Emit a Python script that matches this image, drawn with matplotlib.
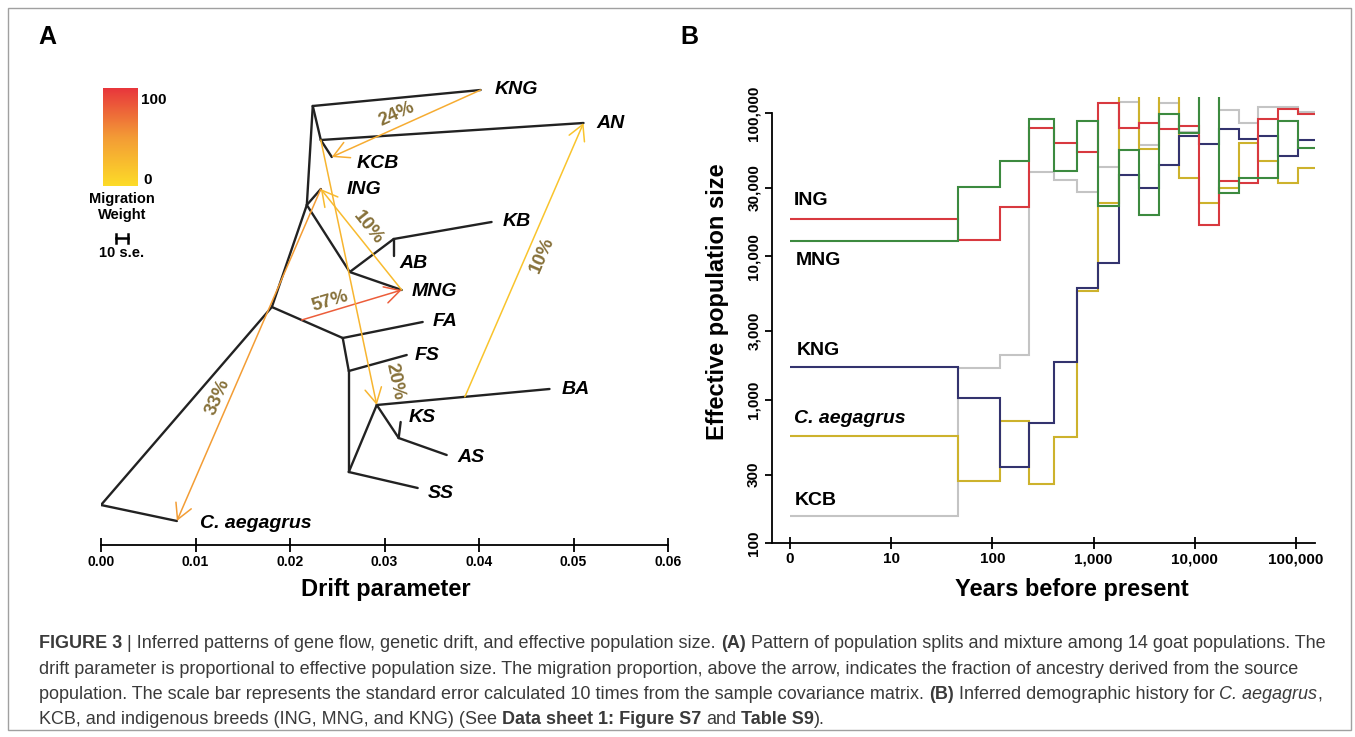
import numpy as np
import matplotlib
matplotlib.use('Agg')
import matplotlib.pyplot as plt
from matplotlib.colors import LinearSegmentedColormap
from matplotlib.patches import Rectangle
from matplotlib.ticker import NullLocator

plt.rcParams['font.family'] = ['Liberation Sans', 'DejaVu Sans']

W, H = 1355, 737

# ---------------- panel A: treemix tree ----------------
# node -> drift parameter, vertical layout row (top = small)
node_names = ['root', 'N1', 'N2', 'N3', 'N4', 'N5', 'N6', 'N7', 'N8', 'N9', 'N10', 'N11',
              'C. aegagrus', 'KNG', 'AN', 'KCB', 'ING', 'KB', 'AB', 'MNG',
              'FA', 'FS', 'BA', 'KS', 'AS', 'SS']
node_drift = [0.0, 0.01808, 0.02178, 0.02241, 0.02326, 0.02632, 0.03097, 0.02558,
              0.02622, 0.02622, 0.02918, 0.03150,
              0.00803, 0.04017, 0.05106, 0.02442, 0.02326, 0.04133, 0.03097, 0.03182,
              0.03404, 0.03235, 0.04746, 0.03171, 0.03658, 0.03351]
node_row = [505, 307, 205, 106, 140, 272, 239, 338, 371, 472, 405, 438,
            521, 90, 123, 157, 189, 222, 256, 290, 322, 355, 389, 422, 455, 488]
edges = [('root', 'C. aegagrus'), ('root', 'N1'), ('N1', 'N2'), ('N1', 'N7'),
         ('N2', 'N3'), ('N2', 'ING'), ('N2', 'N5'), ('N3', 'KNG'), ('N3', 'N4'),
         ('N4', 'AN'), ('N4', 'KCB'), ('N5', 'N6'), ('N5', 'MNG'), ('N6', 'KB'),
         ('N6', 'AB'), ('N7', 'FA'), ('N7', 'N8'), ('N8', 'FS'), ('N8', 'N9'),
         ('N9', 'N10'), ('N9', 'SS'), ('N10', 'BA'), ('N10', 'N11'),
         ('N11', 'KS'), ('N11', 'AS')]
leaves = ['KNG', 'AN', 'KCB', 'ING', 'KB', 'AB', 'MNG', 'FA', 'FS', 'BA', 'KS', 'AS', 'SS', 'C. aegagrus']

# migration edges: source node (point along its parent edge), target node
mig_source = ['KNG', 'BA', 'MNG', 'N7', 'ING', 'N4']
mig_source_frac = [1.0, 0.51, 1.0, 0.42, 1.0, 1.0]
mig_target = ['KCB', 'AN', 'ING', 'MNG', 'C. aegagrus', 'N10']
mig_pct = [24, 10, 10, 57, 33, 20]
mig_weight = [36, 18, 25, 80, 48, 30]
scale_bar_se = 0.00137

# ---------------- panel B: demographic history ----------------
time_edges = [0, 46, 119, 230, 406, 685, 1100, 1780, 2810, 4430, 6980, 11000,
              17300, 27300, 42200, 66400, 105000, 154000]
ne_kcb = [154, 1670, 2050, 38400, 34100, 28100, 42000, 119000, 59800, 117000, 73800,
          200000, 105000, 85300, 109000, 110000, 102000]
ne_caeg = [558, 272, 710, 257, 547, 5680, 23500, 160000, 56100, 160000, 35100,
           23500, 30000, 61500, 45800, 32400, 41200]
ne_kng = [1700, 1030, 341, 692, 1820, 6000, 8950, 37000, 30100, 43500, 69200,
          60800, 77000, 65600, 69200, 49700, 64900]
ne_ing = [18200, 13000, 22100, 78700, 61800, 53600, 117000, 78700, 85300, 77000, 80500,
          16600, 33600, 32600, 91000, 107000, 98000]
ne_mng = [12800, 30600, 46300, 91000, 39500, 88100, 22500, 55200, 19500, 98600, 72000,
          150000, 27500, 35400, 34900, 87100, 56700]

x_ticks = [1, 10, 100, 1000, 10000, 100000]
x_ticklabels = ['0', '10', '100', '1,000', '10,000', '100,000']
y_ticks = [100, 300, 1000, 3000, 10000, 30000, 100000]
y_ticklabels = ['100', '300', '1,000', '3,000', '10,000', '30,000', '100,000']

fig = plt.figure(figsize=(13.55, 7.37), dpi=100)
fig.patches.append(Rectangle((8 / W, 1 - 730 / H), 1343 / W, 722 / H, transform=fig.transFigure,
                             fill=False, edgecolor='#a0a0a0', lw=1.0))

# ---- panel A
axA = fig.add_axes([101 / W, 1 - 545 / H, 567 / W, 485 / H])
axA.set_xlim(0, 0.06)
axA.set_ylim(545, 60)
pos = dict(zip(node_names, zip(node_drift, node_row)))
parent = {c: p for p, c in edges}

for p, c in edges:
    axA.plot([pos[p][0], pos[c][0]], [pos[p][1], pos[c][1]], color='#222222', lw=1.7,
             solid_capstyle='round', zorder=3)

label_off = {'KNG': (14, 0), 'AN': (13, 0), 'KCB': (25, 7), 'ING': (26, 1), 'KB': (11, 0),
             'AB': (6, 7), 'MNG': (10, 2), 'FA': (10, -1), 'FS': (8, 0), 'BA': (12, 1),
             'KS': (8, -4), 'AS': (11, 2), 'SS': (10, 5), 'C. aegagrus': (23, 2)}
for name in leaves:
    dx, dy = label_off[name]
    axA.annotate(name, xy=pos[name], xytext=(dx * 0.72, -dy * 0.72), textcoords='offset points',
                 ha='left', va='center', fontsize=14, fontweight='bold', fontstyle='italic')

cmap = LinearSegmentedColormap.from_list('mig', ['#FDDC28', '#F39A36', '#E8343C'])

# readable label placement along each arrow: fraction along, perpendicular px offset
lab_t = [0.53, 0.54, 0.54, 0.31, 0.64, 0.93]
lab_off = [12.0, -15.0, 12.5, 9.5, 11.5, 22.3]

fig.canvas.draw()
for i in range(len(mig_pct)):
    src = mig_source[i]
    sp = pos[parent[src]]
    sc = pos[src]
    f = mig_source_frac[i]
    s_xy = (sp[0] + f * (sc[0] - sp[0]), sp[1] + f * (sc[1] - sp[1]))
    t_xy = pos[mig_target[i]]
    col = cmap(mig_weight[i] / 100)
    axA.annotate('', xy=t_xy, xytext=s_xy,
                 arrowprops=dict(arrowstyle='->,head_length=0.55,head_width=0.3',
                                 mutation_scale=20, color=col, lw=1.1,
                                 shrinkA=0, shrinkB=0), zorder=4)
    ds = axA.transData.transform(s_xy)
    dt = axA.transData.transform(t_xy)
    d = dt - ds
    ang = np.degrees(np.arctan2(d[1], d[0]))
    if ang > 90:
        ang -= 180
    elif ang <= -90:
        ang += 180
    a = np.radians(ang)
    n = np.array([-np.sin(a), np.cos(a)])
    p_disp = ds + lab_t[i] * d + lab_off[i] * n
    p_data = axA.transData.inverted().transform(p_disp)
    axA.text(p_data[0], p_data[1], f'{mig_pct[i]}%', rotation=ang, rotation_mode='anchor',
             ha='center', va='center', fontsize=13.5, fontweight='bold', color='#87713A')

# scale bar (10 s.e.)
sb_x0 = 0.00222 - scale_bar_se / 2
axA.plot([sb_x0, sb_x0 + scale_bar_se], [238, 238], color='black', lw=1.8)
axA.plot([sb_x0, sb_x0], [233.5, 242.5], color='black', lw=1.8)
axA.plot([sb_x0 + scale_bar_se, sb_x0 + scale_bar_se], [233.5, 242.5], color='black', lw=1.8)
fig.text(122 / W, 1 - 253 / H, '10 s.e.', ha='center', va='center', fontsize=10.5, fontweight='bold')

for s in ['top', 'right', 'left']:
    axA.spines[s].set_visible(False)
axA.spines['bottom'].set_linewidth(1.3)
axA.set_yticks([])
axA.set_xticks([0, 0.01, 0.02, 0.03, 0.04, 0.05, 0.06])
axA.set_xticklabels(['0.00', '0.01', '0.02', '0.03', '0.04', '0.05', '0.06'])
axA.tick_params(axis='x', direction='inout', length=10, width=1.3, pad=2, labelsize=10)
for lab in axA.get_xticklabels():
    lab.set_fontweight('bold')
axA.set_xlabel('Drift parameter', fontsize=17, fontweight='bold')
axA.xaxis.set_label_coords((386 - 101) / 567, -(578 - 545) / 485)
axA.xaxis.label.set_va('top')

# colour bar for migration weight
cax = fig.add_axes([103 / W, 1 - 186 / H, 35 / W, 98 / H])
cax.imshow(np.linspace(0, 100, 256)[:, None], aspect='auto', cmap=cmap, origin='lower',
           extent=[0, 1, 0, 100])
cax.axis('off')
fig.text(141 / W, 1 - 100 / H, '100', ha='left', va='center', fontsize=11, fontweight='bold')
fig.text(143 / W, 1 - 180 / H, '0', ha='left', va='center', fontsize=11, fontweight='bold')
fig.text(122 / W, 1 - 207 / H, 'Migration\nWeight', ha='center', va='center', fontsize=10.5,
         fontweight='bold', linespacing=1.25)

fig.text(47 / W, 1 - 37 / H, 'A', ha='center', va='center', fontsize=18, fontweight='bold')
fig.text(689 / W, 1 - 37 / H, 'B', ha='center', va='center', fontsize=18, fontweight='bold')

# ---- panel B
axB = fig.add_axes([772 / W, 1 - 543 / H, 543 / W, 446 / H])
axB.set_xscale('log')
axB.set_yscale('log')
edges_x = np.where(np.array(time_edges) == 0, 1, time_edges)
series = [('KCB', ne_kcb, '#C4C4C4', (5, 16)),
          ('C. aegagrus', ne_caeg, '#CDB22C', (4, 17)),
          ('KNG', ne_kng, '#33336E', (7, 16)),
          ('ING', ne_ing, '#D8393F', (4, 18)),
          ('MNG', ne_mng, '#3C8A3F', (6, -20))]
for name, vals, col, (dx, dy) in series:
    axB.stairs(vals, edges_x, baseline=None, color=col, lw=1.5)
    axB.annotate(name, xy=(edges_x[0], vals[0]), xytext=(dx * 0.72, dy * 0.72),
                 textcoords='offset points', ha='left', va='center', fontsize=14,
                 fontweight='bold', fontstyle='italic' if name == 'C. aegagrus' else 'normal',
                 annotation_clip=False)

axB.set_xlim(0.664, 154000)
axB.set_ylim(100, 129000)
axB.spines['top'].set_visible(False)
axB.spines['right'].set_visible(False)
axB.spines['left'].set_bounds(100, 100000)
axB.spines['left'].set_linewidth(1.3)
axB.spines['bottom'].set_linewidth(1.3)
axB.xaxis.set_minor_locator(NullLocator())
axB.yaxis.set_minor_locator(NullLocator())
axB.set_xticks(x_ticks)
axB.set_xticklabels(x_ticklabels)
axB.set_yticks(y_ticks)
axB.set_yticklabels(y_ticklabels, rotation=90, va='center')
axB.tick_params(axis='x', direction='inout', length=9, width=1.3, pad=2, labelsize=11)
axB.tick_params(axis='y', direction='out', length=5, width=1.3, pad=3, labelsize=11)
for lab in axB.get_xticklabels() + axB.get_yticklabels():
    lab.set_fontweight('bold')
axB.set_xlabel('Years before present', fontsize=17, fontweight='bold')
axB.xaxis.set_label_coords((1072 - 772) / 543, -(578 - 543) / 446)
axB.xaxis.label.set_va('top')
axB.set_ylabel('Effective population size', fontsize=17, fontweight='bold')
axB.yaxis.set_label_coords((729 - 772) / 543, (543 - 302) / 446)

# ---- caption with mixed styles
renderer = fig.canvas.get_renderer()
cap_kw = dict(fontsize=13, color='#3a3a3a', va='baseline')
probe1 = fig.text(0, 0, 'a a', **cap_kw)
probe2 = fig.text(0, 0, 'aa', **cap_kw)
space_w = probe1.get_window_extent(renderer).width - probe2.get_window_extent(renderer).width
probe1.remove()
probe2.remove()

caption = [
    [('FIGURE 3', 'bold', 'normal'),
     (' | Inferred patterns of gene flow, genetic drift, and effective population size. ', 'normal', 'normal'),
     ('(A)', 'bold', 'normal'),
     (' Pattern of population splits and mixture among 14 goat populations. The', 'normal', 'normal')],
    [('drift parameter is proportional to effective population size. The migration proportion, '
      'above the arrow, indicates the fraction of ancestry derived from the source', 'normal', 'normal')],
    [('population. The scale bar represents the standard error calculated 10 times from the sample '
      'covariance matrix. ', 'normal', 'normal'),
     ('(B)', 'bold', 'normal'),
     (' Inferred demographic history for ', 'normal', 'normal'),
     ('C. aegagrus', 'normal', 'italic'),
     (',', 'normal', 'normal')],
    [('KCB, and indigenous breeds (ING, MNG, and KNG) (See ', 'normal', 'normal'),
     ('Data sheet 1: Figure S7', 'bold', 'normal'),
     (' and ', 'normal', 'normal'),
     ('Table S9', 'bold', 'normal'),
     (').', 'normal', 'normal')],
]
cap_base = [648, 673.5, 699, 724.5]
for line, yb in zip(caption, cap_base):
    x = 39.0
    for txt, wt, st in line:
        lead = len(txt) - len(txt.lstrip(' '))
        trail = len(txt) - len(txt.rstrip(' '))
        core = txt.strip(' ')
        x += lead * space_w
        t = fig.text(x / W, 1 - yb / H, core, fontweight=wt, fontstyle=st, **cap_kw)
        x += t.get_window_extent(renderer).width + trail * space_w

fig.savefig('out.png', dpi=100)
